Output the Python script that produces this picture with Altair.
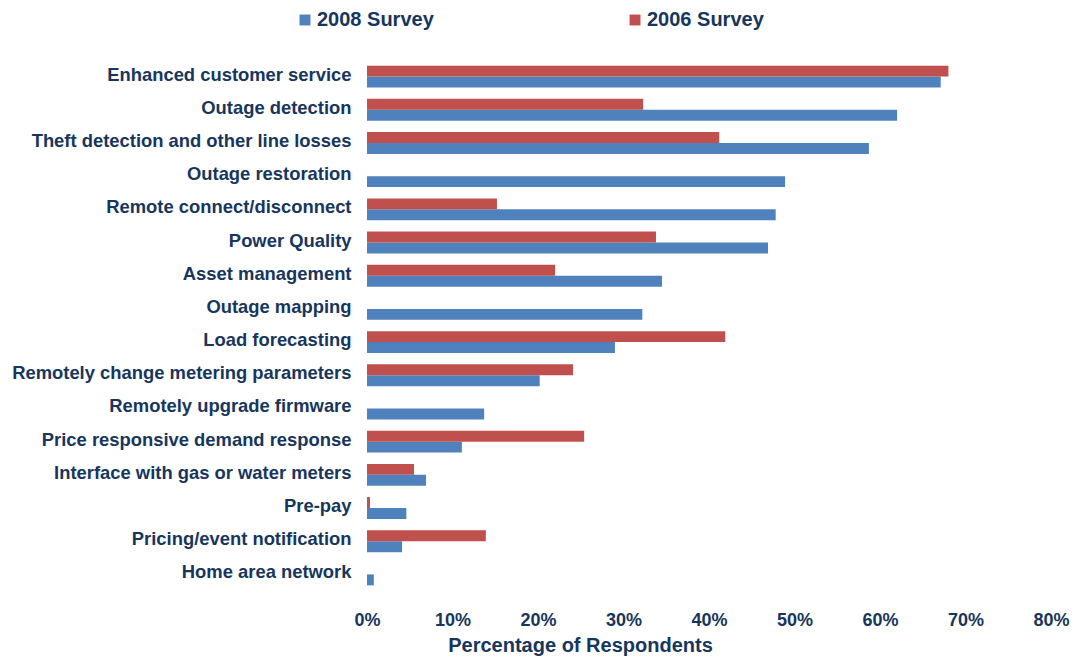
import altair as alt
import pandas as pd

categories = [
    "Enhanced customer service",
    "Outage detection",
    "Theft detection and other line losses",
    "Outage restoration",
    "Remote connect/disconnect",
    "Power Quality",
    "Asset management",
    "Outage mapping",
    "Load forecasting",
    "Remotely change metering parameters",
    "Remotely upgrade firmware",
    "Price responsive demand response",
    "Interface with gas or water meters",
    "Pre-pay",
    "Pricing/event notification",
    "Home area network",
]
survey_2008 = [67.1, 62.0, 58.7, 48.9, 47.8, 46.9, 34.5, 32.2, 29.0, 20.2, 13.7, 11.1, 6.9, 4.6, 4.1, 0.8]
survey_2006 = [68.0, 32.3, 41.2, None, 15.2, 33.8, 22.0, None, 41.9, 24.1, None, 25.4, 5.5, 0.35, 13.9, None]
series = ["2008 Survey", "2006 Survey"]
colors = ["#4F81BD", "#C0504D"]
tick_values = [0, 0.1, 0.2, 0.3, 0.4, 0.5, 0.6, 0.7, 0.8]

rows = []
for c, v8, v6 in zip(categories, survey_2008, survey_2006):
    rows.append({"Category": c, "Survey": series[0], "Value": v8 / 100})
    if v6 is not None:
        rows.append({"Category": c, "Survey": series[1], "Value": v6 / 100})
df = pd.DataFrame(rows)

text_color = "#17365D"
font = "Liberation Sans"

chart = (
    alt.Chart(df)
    .mark_bar()
    .encode(
        y=alt.Y(
            "Category:N",
            sort=categories,
            scale=alt.Scale(paddingInner=0.34, paddingOuter=0.17),
            axis=alt.Axis(
                title=None,
                domain=False,
                ticks=False,
                labelPadding=16,
                labelFontSize=18.4,
                labelFontWeight="bold",
                labelFont=font,
                labelColor=text_color,
                labelLimit=400,
                labelOffset=-2,
            ),
        ),
        yOffset=alt.YOffset("Survey:N", sort=["2006 Survey", "2008 Survey"]),
        x=alt.X(
            "Value:Q",
            scale=alt.Scale(domain=[0, 0.8], nice=False),
            axis=alt.Axis(
                title="Percentage of Respondents",
                format=".0%",
                values=tick_values,
                domain=False,
                ticks=False,
                grid=False,
                labelFlush=False,
                labelPadding=20,
                labelFontSize=18,
                labelFontWeight="bold",
                labelFont=font,
                labelColor=text_color,
                titleFontSize=20,
                titleFontWeight="bold",
                titleFont=font,
                titleColor=text_color,
                titlePadding=6,
                titleX=213,
                titleAlign="center",
            ),
        ),
        color=alt.Color(
            "Survey:N",
            scale=alt.Scale(domain=series, range=colors),
            legend=alt.Legend(
                title=None,
                orient="none",
                direction="horizontal",
                legendX=-72,
                legendY=-50,
                symbolType="square",
                symbolSize=120,
                symbolStrokeWidth=0,
                labelFontSize=20,
                labelFontWeight="bold",
                labelFont=font,
                labelColor=text_color,
                labelOffset=2,
                columnPadding=191,
                padding=0,
                labelLimit=300,
            ),
        ),
    )
    .properties(
        width=684,
        height=531,
        autosize=alt.AutoSizeParams(type="none"),
        padding={"left": 359, "top": 52, "right": 20, "bottom": 65},
    )
    .configure(background="white")
    .configure_view(strokeWidth=0, stroke=None)
)

chart.save("out.html", embed_options={"renderer": "svg", "actions": False})
